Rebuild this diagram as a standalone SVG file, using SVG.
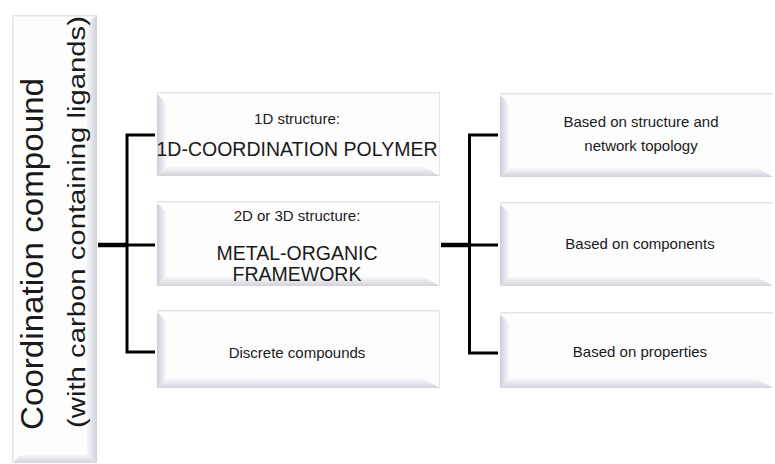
<svg xmlns="http://www.w3.org/2000/svg" width="775" height="464" viewBox="0 0 775 464">
<style>
.box{fill:#fdfdfe}
.edge{fill:#e3e3ea}
.bl{fill:url(#gL)}
.bb{fill:url(#gB)}
.br{fill:url(#gR)}
.t{font-family:"Liberation Sans","Noto Sans",Arial,sans-serif;fill:#1a1a1a;text-anchor:middle}
.s{font-size:15px}
.L{font-size:19.5px}
.c{fill:none;stroke:#000;stroke-width:3}
.stub{fill:none;stroke:#000;stroke-width:4.5}
</style>
<defs>
<linearGradient id="gL" x1="0" y1="0" x2="1" y2="0"><stop offset="0" stop-color="#cdcdda"/><stop offset="1" stop-color="#f7f7fa"/></linearGradient>
<linearGradient id="gR" x1="0" y1="0" x2="1" y2="0"><stop offset="0" stop-color="#f7f7fa"/><stop offset="1" stop-color="#cfcfda"/></linearGradient>
<linearGradient id="gB" x1="0" y1="0" x2="0" y2="1"><stop offset="0" stop-color="#f7f7fa"/><stop offset="1" stop-color="#d2d2dc"/></linearGradient>
</defs>
<rect width="775" height="464" fill="#fff"/>

<g id="root">
<rect class="box" x="12" y="15" width="85" height="448"/>
<rect class="edge" x="12" y="15" width="85" height="1.5"/>
<rect class="edge" x="12" y="15" width="1.5" height="448"/>
<polygon class="br" points="87,24 97,15 97,463 87,455"/>
<polygon class="bb" points="13,463 20,455 87,455 97,463"/>
<text class="t" transform="translate(43,254) rotate(-90)" font-size="32" textLength="352" lengthAdjust="spacingAndGlyphs">Coordination compound</text>
<text class="t" transform="translate(85,222) rotate(-90)" font-size="23" textLength="412" lengthAdjust="spacingAndGlyphs">(with carbon containing ligands)</text>
</g>

<g id="n1d">
<rect class="box" x="157" y="92" width="283" height="84"/>
<rect class="edge" x="157" y="92" width="283" height="1.5"/>
<rect class="edge" x="439" y="92" width="1" height="84"/>
<polygon class="bl" points="157,94 166,103 166,167 157,176"/>
<polygon class="bb" points="157,176 166,167 424,167 440,176"/>
<text class="t s" x="297" y="124">1D structure:</text>
<text class="t L" x="297" y="156">1D-COORDINATION POLYMER</text>
</g>

<g id="nmof">
<rect class="box" x="157" y="201" width="283" height="85"/>
<rect class="edge" x="157" y="201" width="283" height="1.5"/>
<rect class="edge" x="439" y="201" width="1" height="85"/>
<polygon class="bl" points="157,203 166,212 166,277 157,286"/>
<polygon class="bb" points="157,286 166,277 424,277 440,286"/>
<text class="t s" x="297" y="221">2D or 3D structure:</text>
<text class="t L" x="297" y="260">METAL-ORGANIC</text>
<text class="t L" x="297" y="281">FRAMEWORK</text>
</g>

<g id="ndisc">
<rect class="box" x="157" y="310" width="283" height="78"/>
<rect class="edge" x="157" y="310" width="283" height="1.5"/>
<rect class="edge" x="439" y="310" width="1" height="78"/>
<polygon class="bl" points="157,312 166,321 166,379 157,388"/>
<polygon class="bb" points="157,388 166,379 424,379 440,388"/>
<text class="t s" x="297" y="358">Discrete compounds</text>
</g>

<g id="ntopo">
<rect class="box" x="500" y="93" width="273" height="84"/>
<rect class="edge" x="500" y="93" width="273" height="1.5"/>
<polygon class="bl" points="500,95 509,104 509,168 500,177"/>
<polygon class="bb" points="500,177 509,168 757,168 773,177"/>
<text class="t s" x="641" y="127">Based on structure and</text>
<text class="t s" x="641" y="151">network topology</text>
</g>

<g id="ncomp">
<rect class="box" x="500" y="202" width="273" height="84"/>
<rect class="edge" x="500" y="202" width="273" height="1.5"/>
<polygon class="bl" points="500,204 509,213 509,277 500,286"/>
<polygon class="bb" points="500,286 509,277 757,277 773,286"/>
<text class="t s" x="640" y="249">Based on components</text>
</g>

<g id="nprop">
<rect class="box" x="500" y="312" width="273" height="76"/>
<rect class="edge" x="500" y="312" width="273" height="1.5"/>
<polygon class="bl" points="500,314 509,323 509,379 500,388"/>
<polygon class="bb" points="500,388 509,379 757,379 773,388"/>
<text class="t s" x="640" y="357">Based on properties</text>
</g>

<g id="connectors">
<path class="c" d="M155,135 H127 V352 H155 M127,245 H155"/>
<path class="stub" d="M98,245 H127"/>
<path class="c" d="M498,135 H469.5 V353 H498 M469.5,245 H498"/>
<path class="stub" d="M441,245 H469.5"/>
</g>
</svg>
